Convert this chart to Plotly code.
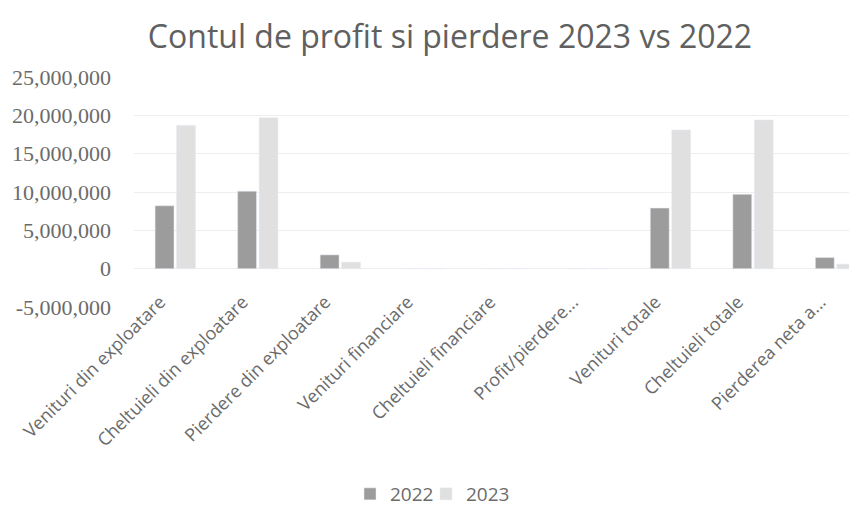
import plotly.graph_objects as go

categories = ["Venituri din exploatare", "Cheltuieli din exploatare", "Pierdere din exploatare",
              "Venituri financiare", "Cheltuieli financiare", "Profit/pierdere...",
              "Venituri totale", "Cheltuieli totale", "Pierderea neta a..."]
values_2022 = [8200000, 10100000, 1800000, 0, 0, 0, 7900000, 9700000, 1450000]
values_2023 = [18700000, 19700000, 850000, 0, 0, 0, 18100000, 19400000, 600000]
tick_vals = [-5000000, 0, 5000000, 10000000, 15000000, 20000000, 25000000]
tick_text = ["-5,000,000", "0", "5,000,000", "10,000,000", "15,000,000", "20,000,000", "25,000,000"]

# the page body adds an 8px offset; lay out in window pixels minus that offset
OFF = 8
W, H = 857 - OFF, 509 - OFF
left = 134 - OFF
top, bottom = 77 - OFF, 307 - OFF
ymin, ymax = -5000000, 25000000
label_axis_px = 287 - OFF
xpos = (bottom - label_axis_px) / (bottom - top)

font_fam = "Open Sans, Liberation Sans, sans-serif"
txt = "#6b6b6b"

fig = go.Figure()
fig.add_trace(go.Bar(name="2022", x=categories, y=values_2022, marker_color="#9c9c9c", legend="legend"))
fig.add_trace(go.Bar(name="2023", x=categories, y=values_2023, marker_color="#e0e0e0", legend="legend2"))


def leg(text_start_px):
    return dict(orientation="h", x=(text_start_px - 40 - OFF - left) / (W - left), xanchor="left",
                y=-(494 - OFF - bottom) / (bottom - top), yanchor="middle",
                font=dict(family=font_fam, size=19, color=txt), itemwidth=30,
                bgcolor="rgba(0,0,0,0)")


fig.update_layout(
    width=W, height=H,
    paper_bgcolor="white", plot_bgcolor="white",
    margin=dict(l=left, r=0, t=top, b=H - bottom, autoexpand=False),
    barmode="group", bargap=0.48, bargroupgap=0.12,
    title=dict(text="Contul de profit si pierdere 2023 vs 2022", x=(450 - OFF) / W, xanchor="center",
               y=1 - (37 - OFF) / H, yanchor="middle",
               font=dict(family=font_fam, size=32, color="#606060")),
    legend=leg(390),
    legend2=leg(466),
    showlegend=True,
    font=dict(family=font_fam, color=txt),
)
fig.update_xaxes(
    anchor="free", position=xpos, automargin=False,
    range=[-0.5, 8.26], tickangle=-45, showgrid=False, showline=False, ticks="",
    ticklabelshift=-15,
    tickfont=dict(family=font_fam, size=18, color=txt),
)
fig.update_yaxes(
    range=[ymin, ymax], tickvals=tick_vals, ticktext=tick_text, automargin=False,
    showgrid=True, gridcolor="#eeeeee", zeroline=False, showline=False,
    ticklabelstandoff=22,
    tickfont=dict(family="Liberation Serif, serif", size=22, color=txt),
)

fig.write_html("out.html")
